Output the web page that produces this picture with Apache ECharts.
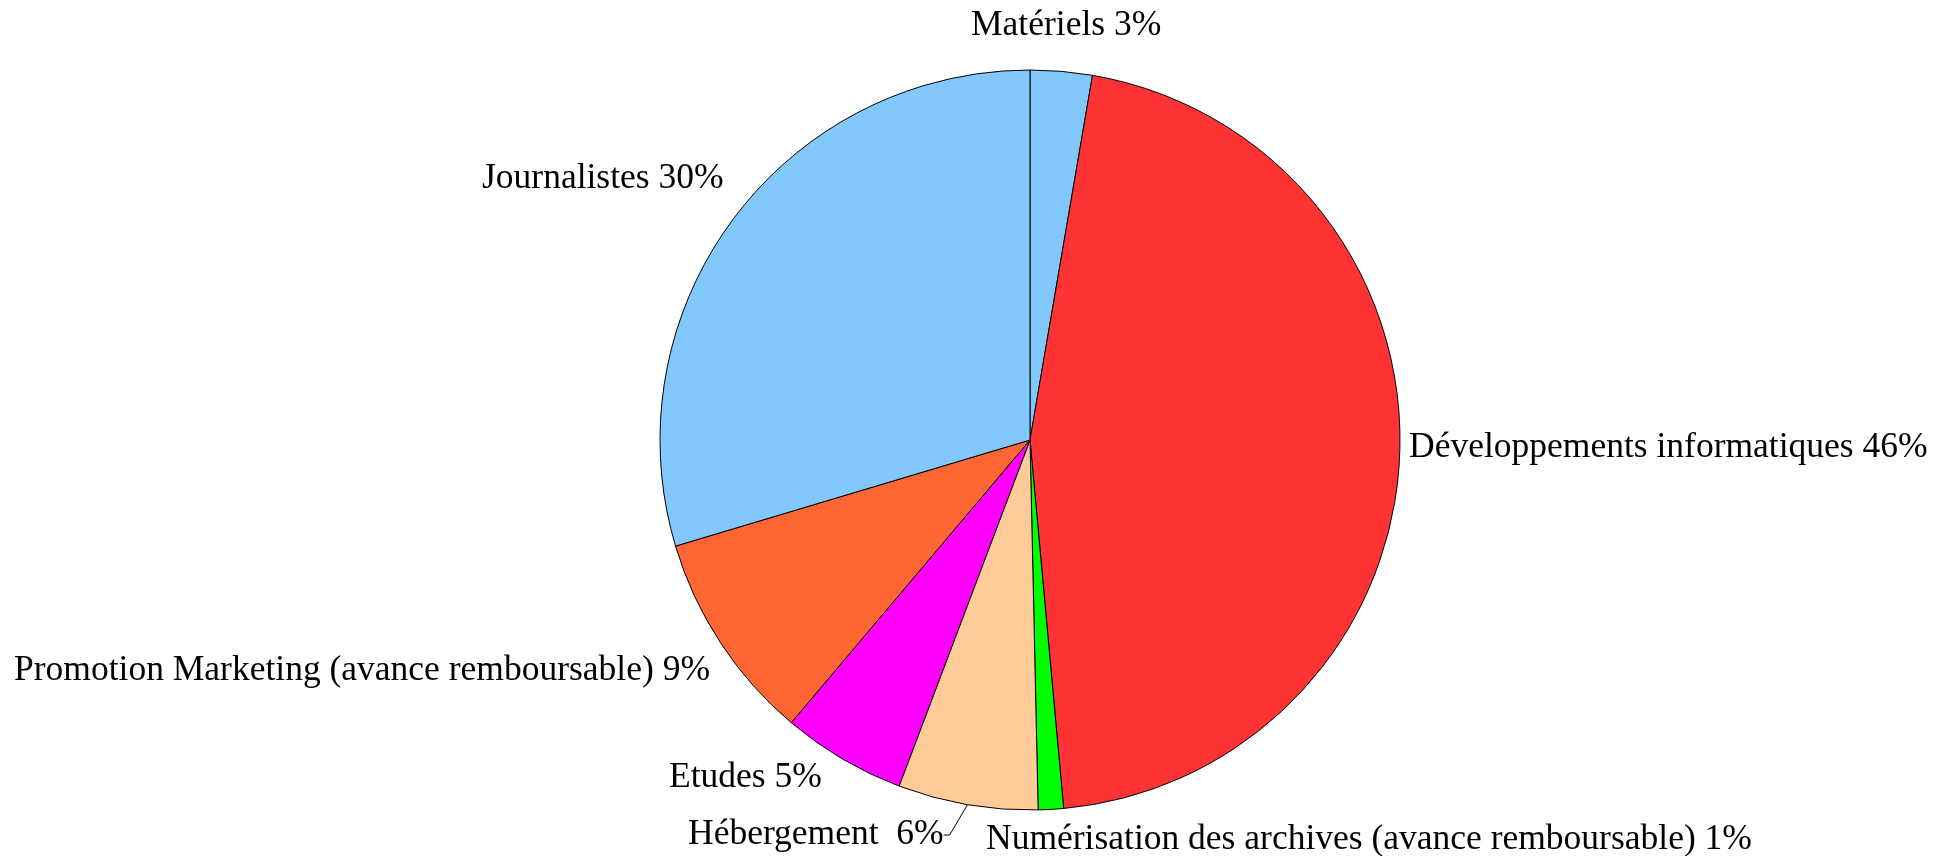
<!DOCTYPE html>
<html>
<head>
<meta charset="utf-8">
<script src="https://cdn.jsdelivr.net/npm/echarts@6/dist/echarts.min.js"></script>
<style>
  html, body { margin: 0; padding: 0; background: #fff; }
  #budget { width: 1933px; height: 856px; }
</style>
</head>
<body>
<div id="budget"></div>
<script>
// parts of the budget, clockwise from the top
var categories = [
    'Matériels',
    'Développements informatiques',
    'Numérisation des archives (avance remboursable)',
    'Hébergement ',
    'Etudes',
    'Promotion Marketing (avance remboursable)',
    'Journalistes'
];
var shares = [2.7, 45.8, 1.1, 6.1, 5.4, 9.2, 29.6];
var colors = ['#82C8FC', '#FF3333', '#00FF00', '#FFCC99', '#FF00FF', '#FF6633', '#82C8FC'];

// where each label sits (left edge, vertical middle)
var labelSpots = [
    [971, 26], [1409, 448], [986, 840], [688, 835], [669, 778], [14, 671], [482, 179]
];

var budgetChart = echarts.init(document.getElementById('budget'));

var budgetOption = {
    animation: false,
    series: [{
        type: 'pie',
        center: [1030, 440],
        radius: 370,
        startAngle: 90,
        clockwise: true,
        percentPrecision: 0,
        itemStyle: {
            borderColor: '#000',
            borderWidth: 1
        },
        label: {
            show: true,
            formatter: '{b} {d}%',
            fontFamily: '"Liberation Serif", "Times New Roman", serif',
            fontSize: 35.5,
            color: '#000',
            overflow: 'none'
        },
        labelLine: {
            show: false
        },
        labelLayout: function (params) {
            var p = labelSpots[params.dataIndex];
            return {
                x: p[0],
                y: p[1],
                align: 'left',
                verticalAlign: 'middle'
            };
        },
        data: categories.map(function (name, i) {
            var item = {
                name: name,
                value: shares[i],
                itemStyle: { color: colors[i] }
            };
            if (i === 3) {
                item.labelLine = { show: true, length: 6, length2: 6, lineStyle: { color: '#000', width: 1 } };
            }
            return item;
        })
    }]
};

budgetChart.setOption(budgetOption);
</script>
</body>
</html>
